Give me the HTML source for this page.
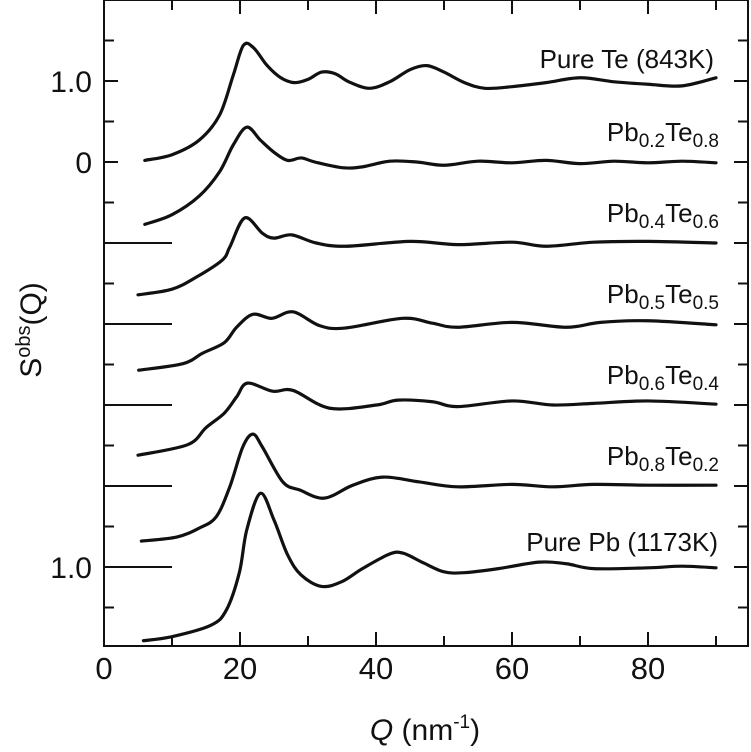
<!DOCTYPE html>
<html><head><meta charset="utf-8"><style>
html,body{margin:0;padding:0;background:#fff;}
svg{display:block;font-family:"Liberation Sans",Arial,sans-serif;}
</style></head><body>
<svg id="chart" width="751" height="752" viewBox="0 0 751 752" xmlns="http://www.w3.org/2000/svg">
<g id="frame"></g>
<g id="curves"></g>
<g id="labels"></g>
</svg>
<script>
// ---- data ----
const xTicks = [0, 20, 40, 60, 80];
const xMinorTicks = [10, 30, 50, 70, 90];
const seriesNames = ["Pure Te (843K)", "Pb0.2Te0.8", "Pb0.4Te0.6", "Pb0.5Te0.5", "Pb0.6Te0.4", "Pb0.8Te0.2", "Pure Pb (1173K)"];
const qTe = [6,10,14,17,19,20.5,22,24,26,28,30,32,34,36,39,42,45,47.5,50,53,56,60,65,70,75,80,85,90];
const sTe = [0.02,0.09,0.27,0.58,1.07,1.44,1.41,1.19,1.04,0.98,1.02,1.11,1.09,0.99,0.91,0.99,1.14,1.19,1.11,0.98,0.91,0.93,0.98,1.04,0.99,0.96,0.94,1.04];
const q02 = [6,10,14,17,19,21,23,25,27,29,31,35,38,42,46,50,55,60,65,70,75,80,85,90];
const s02 = [0.23,0.35,0.58,0.88,1.21,1.43,1.27,1.12,1.02,1.05,1.0,0.93,0.94,1.01,1.0,0.96,1.01,0.99,1.02,0.98,1.01,0.99,1.01,0.99];
const q04 = [5,10,13.6,17.4,18.5,20.7,23.3,25,27.6,31.2,35.6,45,52,60,65,72,80,90];
const s04 = [0.36,0.43,0.58,0.79,0.95,1.31,1.12,1.06,1.1,1.0,0.96,1.02,0.98,1.01,0.96,1.01,1.02,1.0];
const q05 = [5.1,11.6,14.5,17.7,19.5,21.9,24.7,27.8,31.7,35.4,43.9,48.3,52,60,68,73,80,90];
const s05 = [0.43,0.51,0.64,0.77,0.96,1.12,1.07,1.15,0.98,0.95,1.07,1.01,0.96,1.02,0.96,1.02,1.04,0.99];
const q06 = [5,12.3,15,17.7,19.5,21.1,24.8,27.8,33.2,40.1,43.2,48.3,52,60,66,72,80,90];
const s06 = [0.38,0.51,0.72,0.9,1.1,1.27,1.17,1.18,0.96,1.0,1.06,1.04,0.98,1.05,1.0,1.02,1.05,1.01];
const q08 = [5.5,10.7,14,16.5,18.5,20.4,21.9,23.3,26.3,28.8,32.4,36.6,41,46.4,52,60,66,72,80,90];
const s08 = [0.32,0.37,0.48,0.62,0.99,1.48,1.64,1.48,1.05,0.95,0.85,1.01,1.11,1.05,0.99,1.02,0.99,1.02,1.01,1.01];
const qPb = [5.8,10,15.7,18,19.9,21,23,25,27,29,32,35,38,42,44,47,50,53,58,64,68,72,80,85,90];
const sPb = [0.09,0.14,0.28,0.47,0.93,1.46,1.91,1.58,1.15,0.9,0.76,0.82,0.98,1.16,1.17,1.05,0.94,0.93,0.98,1.06,1.04,0.98,0.99,1.01,0.99];
const seriesQ = [qTe,q02,q04,q05,q06,q08,qPb];
const seriesS = [sTe,s02,s04,s05,s06,s08,sPb];
const offsetIndex = [1,2,3,4,5,6,7];

// ---- axes ----
const L=104, R=748, T=0, B=646;
const UNIT=81;
function xs(q){return L + q*6.8;}
function baseY(i){return offsetIndex[i]*UNIT;}
function ys(i,s){return baseY(i) - (s-1)*UNIT;}

const NS="http://www.w3.org/2000/svg";
function mk(tag, attrs, parent){const e=document.createElementNS(NS,tag);for(const k in attrs)e.setAttribute(k,attrs[k]);parent.appendChild(e);return e;}
const frame=document.getElementById('frame');
const fr=mk('rect',{x:L,y:T,width:R-L,height:B-T,fill:'none',stroke:'#111','stroke-width':2},frame);



xTicks.concat(xMinorTicks).forEach(q=>{
  const x=xs(q);
  const len = (q%20===0)?14:10;
  const t1=mk('line',{x1:x,y1:B,x2:x,y2:B-len,stroke:'#111','stroke-width':2},frame);
  
  
  const t2=mk('line',{x1:x,y1:T,x2:x,y2:T+len,stroke:'#111','stroke-width':2},frame);
  
  
});
xTicks.forEach(q=>{
  const t=mk('text',{x:xs(q),y:679,'text-anchor':'middle','font-size':31,fill:'#111'},frame);
  t.textContent=String(q);
  
  
});
for(let k=1;k<=15;k++){
  const y=k*40.5, len=(k%2===0)?14:10;
  const a=mk('line',{x1:L,y1:y,x2:L+len,y2:y,stroke:'#111','stroke-width':2},frame);
  
  
  const b=mk('line',{x1:R,y1:y,x2:R-len,y2:y,stroke:'#111','stroke-width':2},frame);
  
  
}
for(let i=2;i<=6;i++){
  const y=baseY(i);
  const m=mk('line',{x1:L,y1:y,x2:xs(10),y2:y,stroke:'#111','stroke-width':2},frame);
  
  
}
const yLabels=[["1.0",baseY(0)],["0",baseY(1)],["1.0",baseY(6)]];
yLabels.forEach(([s,y])=>{
  const t=mk('text',{x:92,y:y+11,'text-anchor':'end','font-size':30,fill:'#111'},frame);
  t.textContent=s;
  
  
});

// ---- curves ----
const cg=document.getElementById('curves');
seriesQ.forEach((qs,i)=>{
  const ss=seriesS[i];
  const pts=qs.map((q,j)=>[xs(q),ys(i,ss[j])]);
  let d='M'+pts[0][0]+','+pts[0][1];
  for(let j=0;j<pts.length-1;j++){
    const p0=pts[j-1]||pts[j], p1=pts[j], p2=pts[j+1], p3=pts[j+2]||p2;
    const c1x=p1[0]+(p2[0]-p0[0])/6, c1y=p1[1]+(p2[1]-p0[1])/6;
    const c2x=p2[0]-(p3[0]-p1[0])/6, c2y=p2[1]-(p3[1]-p1[1])/6;
    d+=' C'+c1x+','+c1y+' '+c2x+','+c2y+' '+p2[0]+','+p2[1];
  }
  const p=mk('path',{d:d,fill:'none',stroke:'#111','stroke-width':3.2,'stroke-linejoin':'round','stroke-linecap':'round'},cg);
  
  
});

// ---- labels ----
const lg=document.getElementById('labels');
function txt(html,x,y,name){
  const t=document.createElementNS(NS,'text');
  t.setAttribute('x',x);t.setAttribute('y',y);t.setAttribute('text-anchor','end');
  t.setAttribute('font-size','26');t.setAttribute('fill','#111');
  t.innerHTML=html;
  
  
  lg.appendChild(t);
}
function sub(s){return '<tspan font-size="19" dy="6">'+s+'</tspan>';}
txt('Pure Te (843K)',714,68,'label-pure-te');
txt('Pb'+sub('0.2')+'<tspan dy="-6">Te</tspan>'+sub('0.8'),719,141,'label-pb02te08');
txt('Pb'+sub('0.4')+'<tspan dy="-6">Te</tspan>'+sub('0.6'),719,222,'label-pb04te06');
txt('Pb'+sub('0.5')+'<tspan dy="-6">Te</tspan>'+sub('0.5'),719,303,'label-pb05te05');
txt('Pb'+sub('0.6')+'<tspan dy="-6">Te</tspan>'+sub('0.4'),719,384,'label-pb06te04');
txt('Pb'+sub('0.8')+'<tspan dy="-6">Te</tspan>'+sub('0.2'),719,465,'label-pb08te02');
txt('Pure Pb (1173K)',718,551,'label-pure-pb');
const xt=document.createElementNS(NS,'text');
xt.setAttribute('x',425);xt.setAttribute('y',740);xt.setAttribute('text-anchor','middle');
xt.setAttribute('font-size','30');xt.setAttribute('fill','#111');
xt.innerHTML='<tspan font-style="italic">Q</tspan> (nm<tspan font-size="19" dy="-12">-1</tspan><tspan dy="12">)</tspan>';


lg.appendChild(xt);
const yt=document.createElementNS(NS,'text');
yt.setAttribute('transform','translate(41,330) rotate(-90)');
yt.setAttribute('text-anchor','middle');
yt.setAttribute('font-size','30');yt.setAttribute('fill','#111');
yt.innerHTML='S<tspan font-size="20" dy="-11">obs</tspan><tspan dy="11">(Q)</tspan>';


lg.appendChild(yt);
</script>
</body></html>
